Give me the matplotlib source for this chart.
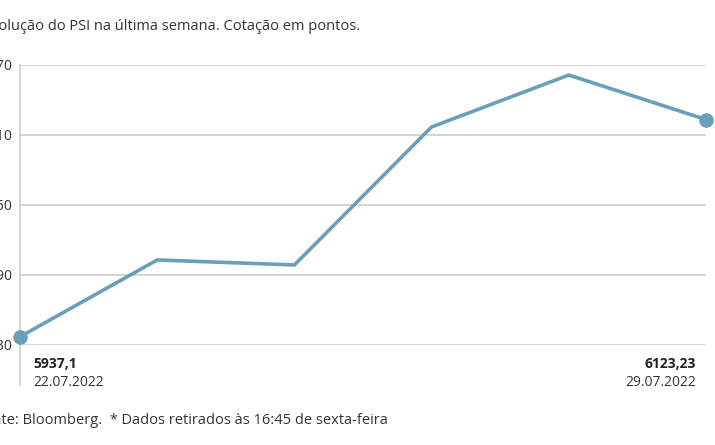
import matplotlib
matplotlib.use("Agg")
import matplotlib.pyplot as plt

dates = ["22.07.2022", "25.07.2022", "26.07.2022", "27.07.2022", "28.07.2022", "29.07.2022"]
values = [5937.1, 6002.9, 5998.6, 6116.9, 6161.4, 6123.23]
yticks = [5930, 5990, 6050, 6110, 6170]

plt.rcParams["font.family"] = ["Open Sans", "DejaVu Sans"]
W, H = 715, 445
fig = plt.figure(figsize=(W / 100, H / 100), dpi=100)
# axes spans x 20..706 px, y 65..345 px
ax = fig.add_axes([20 / W, 1 - 345 / H, 686 / W, 280 / H])
x = list(range(len(values)))
col = "#6a9fba"
ax.plot(x, values, color=col, lw=2.6, clip_on=False, zorder=3)
ax.scatter([x[0], x[-1]], [values[0], values[-1]], s=90, color=col, zorder=4, clip_on=False)
ax.set_xlim(0, len(values) - 1)
ax.set_ylim(yticks[0], yticks[-1])
ax.set_yticks(yticks)
ax.set_yticklabels([str(t) for t in yticks], fontsize=10, color="#333333")
ax.tick_params(axis="y", length=0, pad=6)
ax.set_xticks([])
ax.grid(axis="y", color="#cccccc", lw=1.2)
for s in ["top", "right", "bottom"]:
    ax.spines[s].set_visible(False)
ax.spines["left"].set_color("#cccccc")
ax.spines["left"].set_linewidth(1.2)
ax.spines["left"].set_bounds(yticks[0] - 34, yticks[-1])

fig.text(33 / W, 1 - 364 / H, "5937,1", fontsize=10, fontweight="bold", color="#222222", va="center")
fig.text(33 / W, 1 - 382 / H, dates[0], fontsize=10, color="#333333", va="center")
fig.text(696 / W, 1 - 364 / H, "6123,23", fontsize=10, fontweight="bold", color="#222222", va="center", ha="right")
fig.text(696 / W, 1 - 382 / H, dates[-1], fontsize=10, color="#333333", va="center", ha="right")

fig.text(-17 / W, 1 - 27 / H, "Evolução do PSI na última semana. Cotação em pontos.", fontsize=10.5, color="#333333", va="center")
fig.text(-24 / W, 1 - 421 / H, "Fonte: Bloomberg.  * Dados retirados às 16:45 de sexta-feira", fontsize=10.5, color="#333333", va="center")

fig.savefig("out.png", dpi=100)
